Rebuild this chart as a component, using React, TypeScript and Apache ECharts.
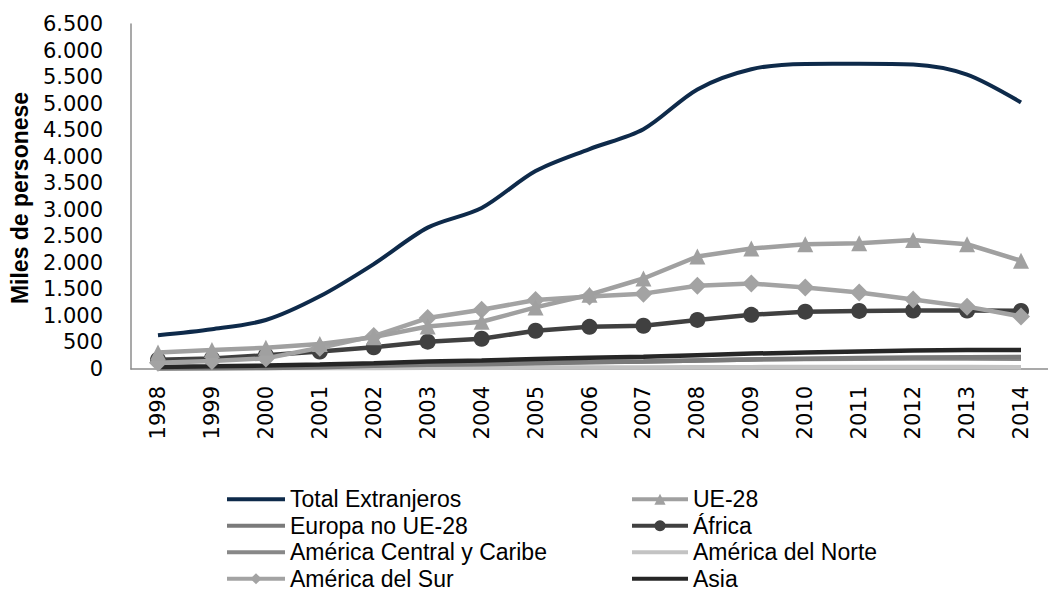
import React, { useEffect, useRef } from "react";
import * as echarts from "echarts";

const years = ["1998","1999","2000","2001","2002","2003","2004","2005","2006","2007","2008","2009","2010","2011","2012","2013","2014"];
const yTicks = [0, 6500, 500];

const totalExtranjeros = [637, 749, 923, 1370, 1977, 2664, 3034, 3730, 4144, 4519, 5268, 5648, 5747, 5751, 5736, 5546, 5023];
const ue28 = [310, 360, 400, 470, 600, 800, 890, 1160, 1400, 1705, 2120, 2270, 2350, 2370, 2430, 2350, 2040];
const europaNoUe = [10, 15, 20, 35, 60, 80, 90, 110, 125, 140, 160, 180, 195, 205, 215, 220, 225];
const africa = [175, 200, 260, 330, 410, 515, 570, 720, 795, 815, 925, 1020, 1080, 1095, 1100, 1100, 1095];
const americaCentral = [25, 30, 35, 50, 70, 90, 100, 120, 130, 140, 160, 180, 190, 195, 200, 200, 195];
const americaNorte = [15, 16, 17, 18, 20, 22, 24, 26, 28, 30, 32, 35, 37, 38, 38, 36, 35];
const americaSur = [120, 150, 200, 400, 620, 960, 1115, 1300, 1365, 1420, 1570, 1610, 1535, 1440, 1310, 1175, 990];
const asia = [40, 50, 65, 85, 110, 140, 160, 190, 210, 230, 260, 290, 310, 330, 350, 360, 360];

const seriesNames = [
  "Total Extranjeros", "UE-28", "Europa no UE-28", "África",
  "América Central y Caribe", "América del Norte", "América del Sur", "Asia",
];
const hasSymbol = [false, true, false, true, false, false, true, false];

export default function App() {
  const ref = useRef<HTMLDivElement>(null);
  useEffect(() => {
    document.body.style.margin = "0";
    const chart = echarts.init(ref.current!, null, { renderer: "svg" });
    const mk = (name: string, data: number[], color: string, symbol: string, size: number, width: number, z: number, smooth = false) => ({
      name, type: "line", data, smooth: smooth ? 0.3 : false,
      symbol, symbolSize: size, showSymbol: symbol !== "none",
      lineStyle: { color, width }, itemStyle: { color }, z,
    });
    const legendFont = { fontFamily: "Liberation Sans", fontSize: 23, color: "#000", lineHeight: 26.5 };
    const legendItem = (i: number) => ({
      name: seriesNames[i],
      lineStyle: { width: 4 },
      itemStyle: hasSymbol[i] ? {} : { opacity: 0 },
    });
    chart.setOption({
      animation: false,
      grid: { left: 131, top: 24, width: 928, bottom: 232 },
      xAxis: {
        type: "category", data: years, boundaryGap: true,
        axisLine: { lineStyle: { color: "#8c8c8c", width: 1.5 } },
        axisTick: { show: false },
        axisLabel: { rotate: 90, margin: 17, fontFamily: "DejaVu Sans", fontSize: 21, color: "#000" },
      },
      yAxis: {
        type: "value", min: yTicks[0], max: yTicks[1], interval: yTicks[2],
        axisLine: { show: true, lineStyle: { color: "#8c8c8c", width: 1.5 } },
        axisTick: { show: false },
        splitLine: { show: false },
        axisLabel: {
          margin: 28, fontFamily: "DejaVu Sans", fontSize: 21, color: "#000",
          formatter: (v: number) => String(v).replace(/\B(?=(\d{3})+(?!\d))/g, "."),
        },
      },
      graphic: [{
        type: "text", x: 20, y: 198, rotation: Math.PI / 2,
        style: { text: "Miles de personese", fontFamily: "Liberation Sans", fontWeight: "bold", fontSize: 23, fill: "#000", align: "center", verticalAlign: "middle" },
      }],
      legend: [
        {
          orient: "vertical", left: 225, top: 486, itemWidth: 58, itemHeight: 14, itemGap: 0,
          data: [0, 2, 4, 6].map(legendItem),
          textStyle: legendFont, padding: 0,
        },
        {
          orient: "vertical", left: 630, top: 486, itemWidth: 56, itemHeight: 14, itemGap: 0,
          data: [1, 3, 5, 7].map(legendItem),
          textStyle: legendFont, padding: 0,
        },
      ],
      series: [
        mk(seriesNames[5], americaNorte, "#c3c3c3", "none", 0, 4.5, 2),
        mk(seriesNames[4], americaCentral, "#888888", "none", 0, 4.5, 3),
        mk(seriesNames[2], europaNoUe, "#7a7a7a", "none", 0, 4.5, 4),
        mk(seriesNames[7], asia, "#262626", "none", 0, 4.5, 5),
        mk(seriesNames[3], africa, "#404040", "circle", 16, 4.5, 6),
        mk(seriesNames[6], americaSur, "#a3a3a3", "diamond", 18, 4.5, 7),
        mk(seriesNames[1], ue28, "#a0a0a0", "triangle", 16, 4.5, 8),
        mk(seriesNames[0], totalExtranjeros, "#0e2a4a", "none", 0, 4, 9, true),
      ],
    });
    return () => chart.dispose();
  }, []);
  return <div ref={ref} style={{ width: 1048, height: 601 }} />;
}
